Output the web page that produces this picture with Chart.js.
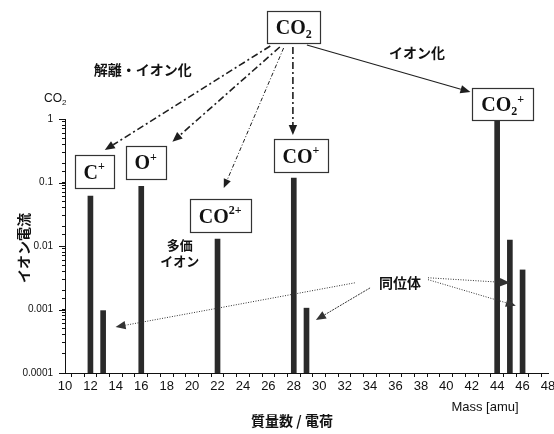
<!DOCTYPE html>
<html>
<head>
<meta charset="utf-8">
<style>
  html, body { margin: 0; padding: 0; background: #fff; }
  canvas { display: block; }
</style>
<script src="https://cdn.jsdelivr.net/npm/chart.js@4/dist/chart.umd.min.js"></script>
</head>
<body>
<canvas id="c" width="554" height="434"></canvas>
<script>
// CO2 mass spectrum: ion current per mass/charge
const masses = [12, 13, 16, 22, 28, 29, 44, 45, 46];
const ionCurrent = [0.061, 0.00096, 0.087, 0.0128, 0.117, 0.00105, 1.0, 0.0124, 0.0042];
const xTickLabels = ['10','12','14','16','18','20','22','24','26','28','30','32','34','36','38','40','42','44','46','48'];
const yTickLabels = ['0.0001','0.001','0.01','0.1','1'];

const JP = '"Noto Sans CJK JP", "Noto Sans", sans-serif';
const SERIF = '"Liberation Serif", "DejaVu Serif", serif';
const SANS = '"Liberation Sans", Arial, sans-serif';

// Annotation layer: positions in (mass, log10 current) so they follow the scales
const annotations = {
  boxes: [
    { x: 28.0, d: 1.449, w: 53, h: 32, parts: [['CO','n'],['2','sub']] },
    { x: 12.29, d: -0.827, w: 39, h: 33, parts: [['C','n'],['+','sup']] },
    { x: 16.34, d: -0.685, w: 40, h: 33, parts: [['O','n'],['+','sup']] },
    { x: 22.21, d: -1.52, w: 61, h: 33, parts: [['CO','n'],['2+','sup']] },
    { x: 28.56, d: -0.575, w: 54, h: 33, parts: [['CO','n'],['+','sup']] },
    { x: 44.44, d: 0.236, w: 61, h: 32, parts: [['CO','n'],['2','sub'],['+','supsub']] }
  ],
  arrows: [
    { from: [26.15, 1.15], to: [13.13, -0.49], w: 1.6, dash: [7,3,2,3], head: 10 },
    { from: [26.9, 1.134], to: [18.45, -0.36], w: 1.6, dash: [7,3,2,3], head: 10 },
    { from: [27.2, 1.118], to: [22.49, -1.087], w: 1, dash: [4,2,1,2], head: 9 },
    { from: [27.93, 1.134], to: [27.93, -0.252], w: 1.6, dash: [7,3,2,3], head: 10 },
    { from: [29.03, 1.165], to: [41.9, 0.425], w: 1.1, dash: [], head: 10 },
    { from: [32.8, -2.58], to: [13.98, -3.276], w: 1, dash: [1,1.5], head: 10, color: '#333' },
    { from: [34.0, -2.66], to: [29.74, -3.165], w: 1, dash: [2,1], head: 10, color: '#333' },
    { from: [38.56, -2.50], to: [45.0, -2.58], w: 1, dash: [1,1.5], head: 10, color: '#333' },
    { from: [38.56, -2.53], to: [45.47, -2.94], w: 1, dash: [1,1.5], head: 10, color: '#333' }
  ],
  texts: [
    { x: 16.11, d: 0.772, text: '解離・イオン化', size: 14 },
    { x: 37.7, d: 1.04, text: 'イオン化', size: 14 },
    { x: 19.02, d: -1.98, text: '多価', size: 13 },
    { x: 19.02, d: -2.24, text: 'イオン', size: 13 },
    { x: 36.36, d: -2.58, text: '同位体', size: 14 }
  ]
};

function drawRich(ctx, cx, cy, parts, size) {
  const big = `bold ${size}px ${SERIF}`;
  const small = `bold ${Math.round(size * 0.62)}px ${SERIF}`;
  let total = 0;
  const widths = parts.map(([t, k]) => {
    ctx.font = k === 'n' ? big : small;
    const w = ctx.measureText(t).width;
    total += w;
    return w;
  });
  let x = cx - total / 2;
  ctx.textBaseline = 'alphabetic';
  ctx.textAlign = 'left';
  const base = cy + size * 0.35;
  parts.forEach(([t, k], i) => {
    ctx.font = k === 'n' ? big : small;
    let y = base;
    if (k === 'sub') y = base + size * 0.18;
    if (k === 'sup' || k === 'supsub') y = base - size * 0.42;
    ctx.fillText(t, x, y);
    x += widths[i];
  });
}

function drawArrow(ctx, x1, y1, x2, y2, a) {
  const ang = Math.atan2(y2 - y1, x2 - x1);
  const hl = a.head, hw = a.head * 0.42;
  const bx = x2 - Math.cos(ang) * hl, by = y2 - Math.sin(ang) * hl;
  ctx.strokeStyle = a.color || '#1e1e1e';
  ctx.fillStyle = a.color || '#1e1e1e';
  ctx.lineWidth = a.w;
  ctx.setLineDash(a.dash);
  ctx.beginPath();
  ctx.moveTo(x1, y1);
  ctx.lineTo(bx, by);
  ctx.stroke();
  ctx.setLineDash([]);
  ctx.beginPath();
  ctx.moveTo(x2, y2);
  ctx.lineTo(bx - Math.sin(ang) * hw, by + Math.cos(ang) * hw);
  ctx.lineTo(bx + Math.sin(ang) * hw, by - Math.cos(ang) * hw);
  ctx.closePath();
  ctx.fill();
}

const annotationPlugin = {
  id: 'spectrumNotes',
  afterDraw(chart) {
    const ctx = chart.ctx;
    const xs = chart.scales.x, ys = chart.scales.y;
    const X = v => xs.getPixelForValue(v);
    const Y = d => ys.getPixelForValue(Math.pow(10, d));
    ctx.save();

    // longer marks at each decade of the current axis
    ctx.strokeStyle = '#111';
    ctx.lineWidth = 1;
    for (let d = -4; d <= 0; d++) {
      const y = Math.round(Y(d)) + 0.5;
      ctx.beginPath();
      ctx.moveTo(xs.left - 6, y);
      ctx.lineTo(xs.left, y);
      ctx.stroke();
    }

    annotations.arrows.forEach(a => {
      drawArrow(ctx, X(a.from[0]), Y(a.from[1]), X(a.to[0]), Y(a.to[1]), a);
    });

    annotations.boxes.forEach(b => {
      const cx = X(b.x), cy = Y(b.d);
      ctx.fillStyle = '#fff';
      ctx.fillRect(cx - b.w / 2, cy - b.h / 2, b.w, b.h);
      ctx.strokeStyle = '#333';
      ctx.lineWidth = 1.2;
      ctx.strokeRect(Math.round(cx - b.w / 2) + 0.5, Math.round(cy - b.h / 2) + 0.5, b.w, b.h);
      ctx.fillStyle = '#111';
      drawRich(ctx, cx, cy, b.parts, 20);
    });

    ctx.fillStyle = '#111';
    ctx.textAlign = 'center';
    ctx.textBaseline = 'middle';
    annotations.texts.forEach(t => {
      ctx.font = `bold ${t.size}px ${JP}`;
      ctx.fillText(t.text, X(t.x), Y(t.d));
    });

    // axis captions
    const area = chart.chartArea;
    ctx.font = `bold 14px ${JP}`;
    ctx.fillText('質量数 / 電荷', 292, 421);
    ctx.font = `13px ${SANS}`;
    ctx.fillText('Mass [amu]', 485, 407);
    ctx.save();
    ctx.translate(24, 248);
    ctx.rotate(-Math.PI / 2);
    ctx.font = `bold 14px ${JP}`;
    ctx.fillText('イオン電流', 0, 0);
    ctx.restore();

    // CO2 unit label at the top of the current axis
    ctx.textAlign = 'left';
    ctx.font = `12px ${SANS}`;
    ctx.fillText('CO', 44, area.top - 20);
    const wCO = ctx.measureText('CO').width;
    ctx.font = `8px ${SANS}`;
    ctx.fillText('2', 44 + wCO, area.top - 16);
    ctx.restore();
  }
};

new Chart(document.getElementById('c'), {
  type: 'bar',
  data: {
    datasets: [{
      data: masses.map((m, i) => ({ x: m, y: ionCurrent[i] })),
      backgroundColor: '#2a2a2a',
      borderWidth: 0,
      barThickness: 5
    }]
  },
  options: {
    responsive: false,
    animation: false,
    devicePixelRatio: 1,
    layout: { padding: { top: 119, left: 0, right: 0, bottom: 0 } },
    plugins: { legend: { display: false }, tooltip: { enabled: false } },
    scales: {
      x: {
        type: 'linear',
        min: 10, max: 48,
        offset: false,
        afterFit(scale) { scale.height = 61; scale.paddingRight = 6; scale.paddingLeft = 0; },
        border: { display: true, color: '#111', width: 1 },
        grid: { display: true, drawOnChartArea: false, drawTicks: true, tickLength: 4, color: '#111' },
        ticks: {
          stepSize: 1,
          autoSkip: false,
          maxRotation: 0,
          padding: 2,
          color: '#111',
          font: { family: SANS, size: 13 },
          callback: v => {
            const s = String(v);
            return xTickLabels.includes(s) ? s : '';
          }
        }
      },
      y: {
        type: 'logarithmic',
        min: 0.0001, max: 1,
        afterFit(scale) { scale.width = 65; },
        border: { display: true, color: '#111', width: 1 },
        grid: { display: true, drawOnChartArea: false, drawTicks: true, tickLength: 3, color: '#111' },
        ticks: {
          autoSkip: false,
          padding: 9,
          color: '#111',
          font: { family: SANS, size: 10 },
          callback: v => {
            const l = Math.log10(v);
            if (Math.abs(l - Math.round(l)) > 1e-9) return '';
            const s = Number(v.toPrecision(1)).toString();
            return yTickLabels.includes(s) ? s : '';
          }
        }
      }
    }
  },
  plugins: [annotationPlugin]
});
</script>
</body>
</html>
